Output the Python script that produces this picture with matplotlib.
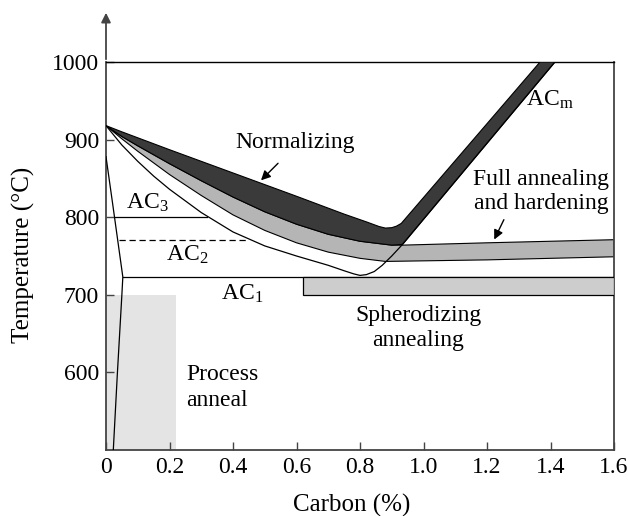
import matplotlib
matplotlib.use("Agg")
import matplotlib.pyplot as plt
from matplotlib.patches import Rectangle

plt.rcParams['font.family'] = ['Liberation Serif', 'DejaVu Serif']
plt.rcParams['mathtext.fontset'] = 'custom'
plt.rcParams['mathtext.rm'] = 'Liberation Serif'
plt.rcParams['mathtext.it'] = 'Liberation Serif:italic'

# normalizing band (upper edge), ends on the left side of the Acm band at 1000 C
norm_top_x = [0, 0.05, 0.2, 0.4, 0.6, 0.75, 0.82, 0.86, 0.88, 0.9, 0.915, 0.93, 1.367]
norm_top_t = [918, 910, 887, 857, 827, 804, 794, 788, 786, 786.5, 788.5, 792, 1000]

# full annealing band (upper and lower edges)
full_top_x = [0, 0.05, 0.1, 0.2, 0.3, 0.4, 0.5, 0.6, 0.7, 0.8, 0.9, 0.934, 1.2, 1.6]
full_top_t = [918, 904, 892, 869, 847, 826, 807, 791, 778, 769, 764, 764, 767, 771]
full_bot_x = [0, 0.05, 0.1, 0.2, 0.3, 0.4, 0.5, 0.6, 0.7, 0.8, 0.88, 1.2, 1.6]
full_bot_t = [918, 901, 885, 855, 828, 803, 783, 767, 755, 747, 743, 745, 749]

# A3 / Acm line
a3_x = [0, 0.05, 0.1, 0.15, 0.2, 0.3, 0.4, 0.5, 0.6, 0.7, 0.75, 0.78, 0.8,
        0.82, 0.845, 0.87, 0.9, 0.934, 1.414]
a3_t = [918, 893, 872, 853, 836, 806, 781, 763, 750, 738, 731, 727, 725,
        726, 730, 738, 750, 765, 1000]

# alpha boundary on the low-carbon side
alpha_x = [0.0, 0.02, 0.053, 0.05, 0.036, 0.023]
alpha_t = [878, 820, 723, 700, 600, 500]

ac1_t = 723
ac3_t = 800
ac2_t = 770
spher = (0.62, 1.6, 700, 723)
process = (0.0, 0.22, 500, 700)

xticks = [0, 0.2, 0.4, 0.6, 0.8, 1.0, 1.2, 1.4, 1.6]
xlabels = ['0', '0.2', '0.4', '0.6', '0.8', '1.0', '1.2', '1.4', '1.6']
yticks = [600, 700, 800, 900, 1000]

fig = plt.figure(figsize=(6.28, 5.16), dpi=100)
ax = fig.add_axes([106 / 628, 1 - 450 / 516, 508 / 628, 388 / 516])
ax.set_xlim(0, 1.6)
ax.set_ylim(500, 1000)

# process anneal region
ax.add_patch(Rectangle((process[0], process[2]), process[1] - process[0],
                       process[3] - process[2], facecolor='#e4e4e4',
                       edgecolor='none', zorder=1))

# full annealing band
gx = full_top_x + full_bot_x[::-1]
gy = full_top_t + full_bot_t[::-1]
ax.fill(gx, gy, facecolor='#b5b5b5', edgecolor='black', lw=0.8, zorder=2)

# normalizing band
lo = [(x, t) for x, t in zip(full_top_x, full_top_t) if x < 0.934]
dx = norm_top_x + [a3_x[-1], a3_x[-2]] + [p[0] for p in lo[::-1]]
dy = norm_top_t + [a3_t[-1], a3_t[-2]] + [p[1] for p in lo[::-1]]
ax.fill(dx, dy, facecolor='#3a3a3a', edgecolor='black', lw=0.8, zorder=3)

# phase lines
ax.plot(a3_x, a3_t, color='black', lw=0.9, zorder=4)
ax.plot(alpha_x, alpha_t, color='black', lw=0.9, zorder=4)
ax.plot([0.053, 1.6], [ac1_t, ac1_t], color='black', lw=0.9, zorder=4)
ax.plot([0.027, 0.318], [ac3_t, ac3_t], color='black', lw=0.9, zorder=4)
ax.plot([0.04, 0.45], [ac2_t, ac2_t], color='black', lw=0.9, ls=(0, (5, 3)), zorder=4)

# spheroidizing band
ax.add_patch(Rectangle((spher[0], spher[2]), spher[1] - spher[0],
                       spher[3] - spher[2], facecolor='#cdcdcd',
                       edgecolor='black', lw=0.9, zorder=4))

fs = 17
ax.text(0.595, 896, 'Normalizing', fontsize=fs, ha='center', va='center')
ax.annotate('', xy=(0.482, 845), xytext=(0.548, 872),
            arrowprops=dict(arrowstyle='-|>', color='black', lw=1, mutation_scale=14))
ax.text(1.323, 951, r'AC$_\mathrm{m}$', fontsize=fs, ha='left', va='center')
ax.text(1.37, 833, 'Full annealing\nand hardening', fontsize=fs, ha='center',
        va='center', linespacing=1.2)
ax.annotate('', xy=(1.219, 768), xytext=(1.257, 800),
            arrowprops=dict(arrowstyle='-|>', color='black', lw=1, mutation_scale=14))
ax.text(0.13, 818, r'AC$_\mathrm{3}$', fontsize=fs, ha='center', va='center')
ax.text(0.255, 751, r'AC$_\mathrm{2}$', fontsize=fs, ha='center', va='center')
ax.text(0.43, 701, r'AC$_\mathrm{1}$', fontsize=fs, ha='center', va='center')
ax.text(0.983, 657, 'Spherodizing\nannealing', fontsize=fs, ha='center',
        va='center', linespacing=1.25)
ax.text(0.252, 581, 'Process\nanneal', fontsize=fs, ha='left', va='center',
        linespacing=1.3)

ax.set_xticks(xticks)
ax.set_xticklabels(xlabels)
ax.set_yticks(yticks)
ax.tick_params(direction='in', length=6, width=1, labelsize=fs, pad=5, color='#444')
for s in ['left', 'bottom', 'right']:
    ax.spines[s].set_color('#444')
    ax.spines[s].set_linewidth(1.3)
ax.spines['top'].set_linewidth(1.0)

# y axis arrow above the box
ax.annotate('', xy=(0, 1.134), xytext=(0, 1.0), xycoords='axes fraction',
            arrowprops=dict(arrowstyle='-|>', color='#444', lw=1.3, mutation_scale=14),
            annotation_clip=False)

fig.text(23 / 628, 1 - 255 / 516, 'Temperature (°C)', fontsize=18, rotation=90,
         ha='center', va='center')
fig.text(352 / 628, 1 - 505 / 516, 'Carbon (%)', fontsize=18, ha='center', va='center')

fig.savefig('out.png', dpi=100)
